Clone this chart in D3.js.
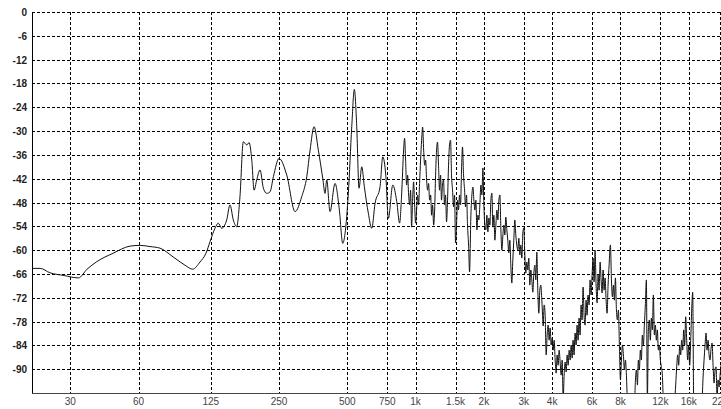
<!DOCTYPE html>
<html>
<head>
<meta charset="utf-8">
<script src="https://cdn.jsdelivr.net/npm/d3@7"></script>
<style>
  html, body { margin: 0; padding: 0; background: #fff; }
  svg { display: block; }
</style>
</head>
<body>
<svg width="721" height="409"></svg>
<script>
const width = 721, height = 409;
const margin = {top: 12, right: 0, bottom: 16, left: 32};

// tick labels
const xTicks = [30, 60, 125, 250, 500, 750, 1000, 1500, 2000, 3000, 4000, 6000, 8000, 12000, 16000, 22000];
const xTickLabels = ["30", "60", "125", "250", "500", "750", "1k", "1.5k", "2k", "3k", "4k", "6k", "8k", "12k", "16k", "22k"];
const yTicks = [0, -6, -12, -18, -24, -30, -36, -42, -48, -54, -60, -66, -72, -78, -84, -90];

// spectrum, frequency in Hz
const freqs = [
  20.35, 22.1, 24.4, 28.2, 32.6, 35.6, 39.3, 46.3, 55.0, 60.9, 67.4, 74.6, 85.2, 96.2, 104.0, 112.0, 119.0, 124.0,
  130.4, 134.9, 139.6, 146.9, 151.9, 157.1, 162.6, 168.1, 173.9, 180.1, 184.4, 189.5, 194.0, 199.3, 206.1, 213.2,
  220.6, 228.2, 236.0, 250.0, 270.3, 294.1, 314.8, 331.2, 342.5, 356.7, 372.5, 389.5, 398.7, 405.7, 419.4, 441.3,
  461.1, 477.2, 488.5, 505.1, 522.9, 536.8, 550.1, 563.0, 578.7, 594.2, 618.8, 640.8, 662.6, 697.1, 716.5, 738.7,
  758.4, 793.1, 826.0,
  850, 867.5, 885.3, 894.3, 903.4, 912.7, 922.0, 931.4, 940.9, 950.5, 960.2, 970.0, 979.9, 989.9, 1000,
  1010, 1020.5, 1031, 1041, 1052, 1063, 1074, 1085, 1096, 1107, 1118, 1130, 1141, 1153, 1165, 1176, 1188, 1201, 1213, 1225,
  1237, 1249, 1262, 1275, 1288, 1301, 1314, 1328, 1341, 1355, 1369, 1383, 1397, 1411, 1426, 1440, 1455, 1470, 1485,
  1500, 1515, 1531, 1546, 1562, 1578, 1594, 1610, 1627, 1644, 1660, 1677, 1694, 1712, 1729,
  1753, 1771, 1789, 1807, 1825, 1844, 1863, 1882, 1901, 1920, 1940, 1960, 1980, 2000, 2020, 2041, 2062, 2083, 2104,
  2126, 2147, 2169, 2191, 2214, 2236, 2259, 2282, 2306, 2329, 2353, 2377, 2401, 2426, 2450,
  2474, 2499, 2525, 2550, 2576, 2603, 2629, 2656, 2683, 2710, 2738, 2766, 2794, 2823, 2852, 2881, 2910, 2940, 2970,
  3000, 3031, 3062, 3093, 3124, 3156, 3188, 3221, 3254, 3287, 3321, 3355, 3389, 3423, 3458, 3494, 3529, 3565, 3602, 3638,
  3651, 3688, 3726, 3764, 3802, 3841, 3880, 3920, 3960, 4000, 4041, 4082, 4124, 4166, 4208, 4251, 4294, 4338, 4383,
  4428, 4473, 4518, 4564, 4611, 4658, 4706, 4754, 4802, 4851, 4900,
  4947, 4997, 5049, 5100, 5152, 5205, 5258, 5312, 5366, 5420, 5476, 5532, 5588, 5645, 5703, 5761, 5820, 5879, 5939,
  6000, 6061, 6123, 6185, 6248, 6313, 6377, 6442, 6508, 6574, 6641, 6709, 6778, 6847, 6917, 6988, 7058, 7130,
  7227, 7302, 7376, 7451, 7527, 7604, 7682, 7760, 7839, 7919, 8000, 8082, 8164, 8247, 8331, 8417, 8502, 8589, 8677,
  9222, 9317, 9412, 9507,
  9598, 9696, 9794, 9894, 9995, 10098, 10200, 10304, 10410, 10516, 10624, 10732, 10841, 10952, 11064, 11177, 11291,
  11406, 11522, 11640, 11759, 11879, 12000, 12122, 12246, 12371, 12500,
  13750, 13880, 14021, 14165, 14309, 14454, 14603, 14752, 14902, 15054, 15208, 15363, 15520, 15678, 15838, 16000,
  16163, 16328, 16494, 16662, 16834, 17005,
  18150, 18324, 18513, 18700, 18891, 19085, 19279, 19477, 19675, 19875, 20079, 20284, 20491, 20700, 20911, 21124,
  21340, 21558, 21778, 22000, 22224
];
// level in dB
const levels = [
  -64.6, -64.6, -65.7, -66.4, -67.0, -64.8, -62.9, -60.8, -59.0, -58.8, -59.1, -59.5, -61.7, -63.8, -64.8, -63.0, -60.8, -57.9,
  -54.5, -53.2, -54.5, -52.4, -48.6, -52.4, -54.1, -46.5, -32.7, -33.5, -32.9, -37.3, -44.9, -42.3, -39.8, -44.4,
  -45.7, -45.3, -41.5, -36.9, -41.1, -50.3, -46.5, -41.5, -34.8, -28.9, -34.8, -41.9, -45.7, -42.3, -50.3, -43.2,
  -49.9, -58.3, -55.8, -45.7, -28.9, -19.5, -28.9, -44.4, -39.0, -44.0, -50.7, -54.5, -48.2, -44.0, -36.5, -41.1,
  -52.0, -43.6, -47.8,
  -53.2, -46.1, -34.8, -31.8, -37.3, -43.6, -41.1, -46.1, -48.6, -44.9, -54.2, -47.4, -42.8, -48.6, -53.2,
  -49.9, -46.1, -48.6, -43.2, -37.3, -32.3, -29.0, -34.8, -38.6, -37.3, -42.3, -44.9, -43.2, -47.4, -46.1, -51.2, -48.6, -53.7, -49.9, -41.1,
  -34.8, -32.8, -38.6, -44.9, -41.1, -47.4, -43.6, -42.3, -48.6, -46.1, -52.9, -47.4, -38.6, -33.5, -32.3, -41.1, -44.9, -49.1, -46.1,
  -58.2, -53.7, -47.4, -49.9, -46.1, -48.6, -39.8, -34.0, -41.1, -44.9, -49.1, -46.1, -53.7, -58.7, -65.5,
  -51.2, -46.1, -44.1, -47.4, -49.9, -47.4, -54.9, -51.2, -52.4, -48.6, -43.6, -46.1, -39.3, -48.6, -53.7, -54.9, -51.2, -55.4, -51.9,
  -53.7, -47.4, -45.6, -54.2, -51.2, -57.5, -53.7, -49.9, -52.4, -47.4, -46.1, -54.9, -60.0, -56.2, -53.7,
  -56.2, -51.7, -54.9, -57.5, -60.7, -57.5, -63.8, -68.3, -62.5, -57.5, -52.4, -56.2, -58.7, -60.0, -57.0, -61.2, -58.7, -62.0, -55.7,
  -54.4, -61.2, -65.8, -63.0, -65.0, -62.0, -68.8, -65.0, -67.5, -70.6, -65.8, -63.8, -67.5, -60.5, -70.1, -75.9, -70.1, -68.8, -72.6, -77.6,
  -79.1, -73.8, -76.4, -86.4, -81.4, -78.9, -82.7, -79.6, -83.9, -82.2, -85.2, -82.7, -87.7, -91.0, -86.4, -89.0, -85.2, -88.2, -91.5,
  -87.7, -97.8, -91.5, -88.2, -90.7, -86.4, -89.0, -85.2, -87.7, -83.9, -87.2,
  -82.7, -86.4, -80.9, -83.9, -78.9, -82.7, -77.1, -81.4, -73.8, -77.6, -69.3, -76.4, -78.9, -72.6, -76.4, -71.3, -73.8, -67.5, -71.3,
  -66.3, -62.0, -68.0, -60.0, -68.8, -73.3, -66.3, -70.1, -63.0, -67.5, -70.8, -65.0, -70.1, -67.0, -72.6, -75.9, -68.8, -63.8,
  -58.7, -67.5, -71.8, -68.8, -72.6, -67.0, -75.1, -77.6, -75.1, -84.4, -92.7, -87.7, -83.9, -86.4, -90.2, -87.7, -91.5, -97.8, -99,
  -99, -92.7, -90.2, -94.0,
  -87.7, -90.2, -85.2, -87.7, -81.4, -83.9, -78.9, -73.8, -67.5, -97.8, -80.1, -77.6, -82.7, -77.1, -80.1, -71.3, -81.4,
  -78.9, -82.7, -80.1, -85.2, -83.9, -87.7, -89.4, -91.5, -97.8, -99,
  -99, -97.8, -94.0, -89.4, -86.4, -89.0, -83.9, -86.4, -82.7, -85.2, -80.1, -83.9, -76.8, -82.7, -87.7, -83.9,
  -89.0, -82.7, -75.1, -70.6, -97.8, -99,
  -99, -97.8, -92.0, -87.7, -83.9, -80.9, -85.2, -82.7, -86.4, -87.7, -84.7, -83.4, -89.0, -93.5, -90.2, -89.4,
  -97.8, -92.7, -94.5, -91.5, -89.0
];

const spectrum = freqs.map((f, i) => ({f: f, db: levels[i]}));

const svg = d3.select("svg");
const plotW = width - margin.left - margin.right;
const plotH = height - margin.top - margin.bottom;

const x = d3.scaleLog().domain([20.35, 22210]).range([margin.left, width - margin.right]);
const y = d3.scaleLinear().domain([0, -96]).range([margin.top, height - margin.bottom]);

// grid
svg.append("g")
  .selectAll("line")
  .data(yTicks)
  .join("line")
  .attr("x1", margin.left).attr("x2", width)
  .attr("y1", d => Math.round(y(d)) + 0.5).attr("y2", d => Math.round(y(d)) + 0.5)
  .attr("stroke", "#000")
  .attr("stroke-dasharray", "3,2");

svg.append("g")
  .selectAll("line")
  .data(xTicks)
  .join("line")
  .attr("x1", d => Math.round(x(d)) + 0.5).attr("x2", d => Math.round(x(d)) + 0.5)
  .attr("y1", margin.top).attr("y2", height - margin.bottom)
  .attr("stroke", "#000")
  .attr("stroke-dasharray", "3,2");

// spectrum line
svg.append("clipPath").attr("id", "plot")
  .append("rect")
  .attr("x", margin.left).attr("y", margin.top)
  .attr("width", plotW).attr("height", plotH);

const line = d3.line()
  .x(d => x(d.f))
  .y(d => y(d.db))
  .curve(d3.curveMonotoneX);

svg.append("path")
  .datum(spectrum)
  .attr("clip-path", "url(#plot)")
  .attr("fill", "none")
  .attr("stroke", "#111")
  .attr("stroke-width", 1)
  .attr("d", line);

// axes lines
svg.append("line")
  .attr("x1", margin.left + 0.5).attr("x2", margin.left + 0.5)
  .attr("y1", margin.top).attr("y2", height - margin.bottom + 0.5)
  .attr("stroke", "#000");
svg.append("line")
  .attr("x1", margin.left).attr("x2", width)
  .attr("y1", height - margin.bottom + 0.5).attr("y2", height - margin.bottom + 0.5)
  .attr("stroke", "#444");

// y labels
svg.append("g")
  .selectAll("text")
  .data(yTicks)
  .join("text")
  .attr("x", 27)
  .attr("y", d => y(d) + 4)
  .attr("text-anchor", "end")
  .attr("font-family", "Liberation Sans, Arial, sans-serif")
  .attr("font-size", "10px")
  .attr("font-weight", "bold")
  .attr("fill", "#222")
  .text(d => d);

// x labels
svg.append("g")
  .selectAll("text")
  .data(xTicks)
  .join("text")
  .attr("x", d => x(d))
  .attr("y", 405)
  .attr("text-anchor", "middle")
  .attr("font-family", "Liberation Sans, Arial, sans-serif")
  .attr("font-size", "10px")
  .attr("fill", "#444")
  .text((d, i) => xTickLabels[i]);
</script>
</body>
</html>
